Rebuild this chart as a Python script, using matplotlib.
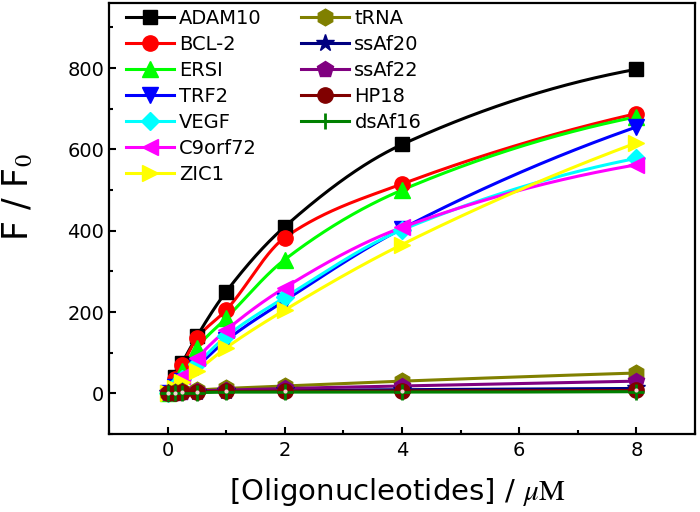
import numpy as np
import matplotlib
matplotlib.use("Agg")
import matplotlib.pyplot as plt
from matplotlib.ticker import MultipleLocator
from matplotlib.lines import Line2D

plt.rcParams['font.family'] = ['DejaVu Sans']
plt.rcParams['mathtext.fontset'] = 'stix'

conc = [0, 0.125, 0.25, 0.5, 1, 2, 4, 8]

names = ["ADAM10", "BCL-2", "ERSI", "TRF2", "VEGF", "C9orf72", "ZIC1",
         "tRNA", "ssAf20", "ssAf22", "HP18", "dsAf16"]

ADAM10 = [1, 40, 75, 140, 250, 410, 612, 797]
BCL2 = [1, 35, 70, 135, 205, 383, 515, 688]
ERSI = [1, 28, 55, 112, 185, 329, 500, 680]
TRF2 = [1, 15, 30, 65, 130, 228, 405, 655]
VEGF = [1, 18, 35, 72, 140, 236, 402, 578]
C9orf72 = [1, 20, 42, 86, 155, 260, 408, 562]
ZIC1 = [1, 14, 28, 55, 112, 205, 366, 616]
tRNA = [1, 3, 5, 8, 12, 18, 30, 50]
ssAf20 = [1, 2, 3, 4, 5, 7, 9, 12]
ssAf22 = [1, 2, 4, 6, 8, 12, 18, 30]
HP18 = [1, 2, 3, 4, 5, 5, 6, 7]
dsAf16 = [1, 1, 2, 2, 3, 3, 3, 4]

series = [ADAM10, BCL2, ERSI, TRF2, VEGF, C9orf72, ZIC1,
          tRNA, ssAf20, ssAf22, HP18, dsAf16]
colors = ["#000000", "#ff0000", "#00ff00", "#0000ff", "#00ffff", "#ff00ff", "#ffff00",
          "#808000", "#000080", "#800080", "#800000", "#008000"]
markers = ["s", "o", "^", "v", "D", "<", ">", "h", "*", "p", "o", "+"]
msizes = [10, 11, 11, 11, 9, 11, 11, 12, 13, 12, 11, 12]


def smooth(x, y, xs):
    """Monotone cubic Hermite curve through the data points."""
    x = np.asarray(x, float)
    y = np.asarray(y, float)
    h = np.diff(x)
    d = np.diff(y) / h
    n = len(x)
    m = np.zeros(n)
    for k in range(1, n - 1):
        if d[k - 1] * d[k] > 0:
            w1 = 2 * h[k] + h[k - 1]
            w2 = h[k] + 2 * h[k - 1]
            m[k] = (w1 + w2) / (w1 / d[k - 1] + w2 / d[k])
    m[0] = max(0.0, 2 * d[0] - m[1])
    m[-1] = max(0.0, 2 * d[-1] - m[-2])
    idx = np.clip(np.searchsorted(x, xs) - 1, 0, n - 2)
    t = (xs - x[idx]) / h[idx]
    h00 = 2 * t**3 - 3 * t**2 + 1
    h10 = t**3 - 2 * t**2 + t
    h01 = -2 * t**3 + 3 * t**2
    h11 = t**3 - t**2
    return h00 * y[idx] + h10 * h[idx] * m[idx] + h01 * y[idx + 1] + h11 * h[idx] * m[idx + 1]


W, H = 700, 512
fig = plt.figure(figsize=(W / 100, H / 100), dpi=100)
ax = fig.add_axes([109 / W, (H - 434) / H, (695 - 109) / W, (434 - 3) / H])

xs = np.linspace(conc[0], conc[-1], 500)
handles = []
for name, vals, c, mk, ms in zip(names, series, colors, markers, msizes):
    ys = smooth(conc, vals, xs)
    ax.plot(xs, ys, color=c, lw=2.2, zorder=2)
    ax.plot(conc, vals, linestyle='none', marker=mk, color=c, ms=ms,
            mew=2 if mk == '+' else 1, mec=c, zorder=3)
    h, = ax.plot([], [], color=c, lw=2.2, marker=mk, ms=ms, mec=c,
                 mew=2 if mk == '+' else 1, label=name)
    handles.append(h)
    if name == "HP18":
        ax.plot(conc, vals, linestyle='none', marker='o', color='#f4d0d0', ms=3,
                mew=0, zorder=4)

blank = Line2D([], [], linestyle='none', marker=None)
handles.append(blank)
labels = names + [""]

ax.set_xlim(-1, 9)
ax.set_ylim(-100, 960)
ax.xaxis.set_major_locator(MultipleLocator(2))
ax.xaxis.set_minor_locator(MultipleLocator(1))
ax.yaxis.set_major_locator(MultipleLocator(200))
ax.yaxis.set_minor_locator(MultipleLocator(100))
ax.tick_params(which='both', direction='in', labelsize=14, width=1.5)
ax.tick_params(which='major', length=5)
ax.tick_params(which='minor', length=3)
ax.tick_params(axis='x', pad=5)
for sp in ax.spines.values():
    sp.set_linewidth(1.6)

fig.text(397 / W, (H - 500) / H, r'[Oligonucleotides] / $\mu\mathrm{M}$',
         fontsize=21, ha='center', va='baseline')
fig.text(18 / W, (H - 197) / H, r'F / F$_0$', fontsize=25, rotation=90,
         ha='center', va='center')

ax.legend(handles, labels, ncol=2, loc='upper left', frameon=False, fontsize=14,
          handlelength=2.5, handletextpad=0.26, columnspacing=2.0,
          labelspacing=0.36, borderaxespad=0.0, borderpad=0.4,
          bbox_to_anchor=(0.015, 1.005))

fig.savefig("out.png", dpi=100)
